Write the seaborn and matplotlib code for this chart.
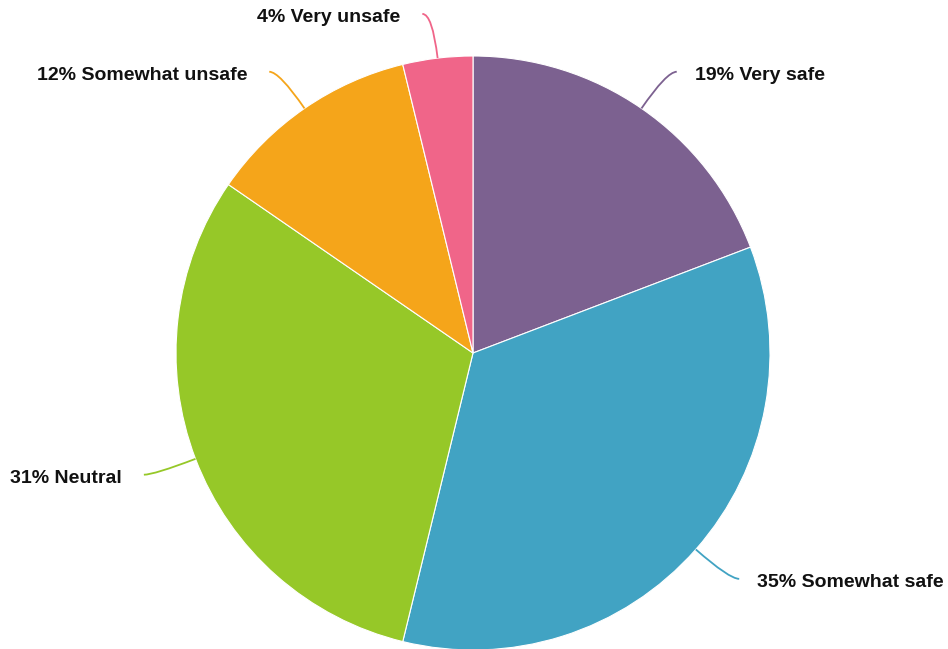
import numpy as np
import seaborn as sns
import matplotlib.pyplot as plt
from matplotlib.path import Path
from matplotlib.patches import PathPatch

# slice data, clockwise from the top
labels = ['Very safe', 'Somewhat safe', 'Neutral', 'Somewhat unsafe', 'Very unsafe']
values = [19.2, 34.6, 30.8, 11.6, 3.8]
colors = ['#7C6190', '#41A3C3', '#96C828', '#F5A51A', '#F06589']

sns.set_theme(style='white')
plt.rcParams['font.family'] = ['Liberation Sans', 'DejaVu Sans']

W, H = 948, 649
cx, cy, R = 473, 353, 297  # pie centre / radius in pixels

fig = plt.figure(figsize=(W / 100, H / 100), dpi=100)
ax = fig.add_axes([0, 0, 1, 1])
ax.pie(values, colors=colors, startangle=90, counterclock=False,
       wedgeprops=dict(edgecolor='white', linewidth=0.8))
ax.set_xlim(-cx / R, (W - cx) / R)
ax.set_ylim(-(H - cy) / R, cy / R)
ax.set_aspect('equal')
ax.axis('off')

# leader lines and labels
total = sum(values)
start = 0
for lab, v, c in zip(labels, values, colors):
    mid = np.deg2rad((start + v / 2) / total * 360)
    start += v
    sx, sy = np.sin(mid), np.cos(mid)
    side = 1 if sx >= 0 else -1
    p0 = (sx, sy)
    p1 = (1.15 * sx, 1.15 * sy)
    p2 = (1.15 * sx + side * 10 / R, 1.15 * sy)
    path = Path([p0, p1, p2], [Path.MOVETO, Path.CURVE3, Path.CURVE3])
    ax.add_patch(PathPatch(path, facecolor='none', edgecolor=c, lw=1.3))
    gap = 18 if side > 0 else 22
    ax.text(p2[0] + side * gap / R, p2[1] - 4 / R,
            f'{round(v)}% {lab}', ha='left' if side > 0 else 'right',
            va='center', fontsize=14, fontweight='bold', color='#111111')

fig.savefig('out.png', dpi=100)
